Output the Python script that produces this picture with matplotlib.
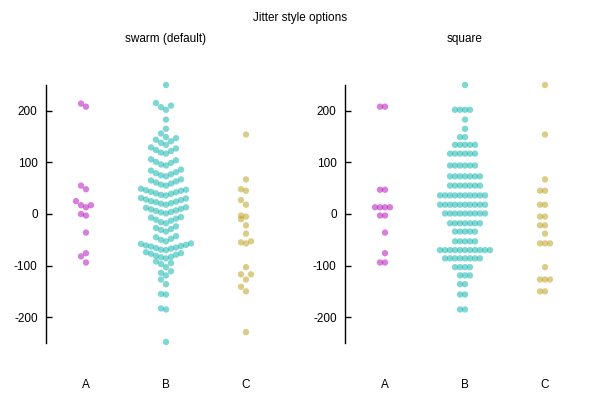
import numpy as np
import matplotlib
matplotlib.use("Agg")
from matplotlib import pyplot as plt

plt.rcParams['font.family'] = ['Liberation Sans', 'DejaVu Sans']
plt.rcParams['axes.unicode_minus'] = False

categories = ['A', 'B', 'C']

# raw values
a_vals = [-94, -82, -76, -36, -3, 0, 13, 17, 17, 25, 48, 55, 208, 214]
b_vals = [-248,
          -185, -183, -156, -155, -136, -127, -119, -114, -111,
          -103, -97, -95, -92,
          -86, -84, -83, -81, -79, -77, -76, -74,
          -70, -69, -67, -66, -65, -63, -62, -61, -60, -58, -57,
          -53, -50, -48, -45, -43,
          -34, -31, -29, -27, -24,
          -18, -16, -13, -11, -9, -7, -6,
          1, 3, 4, 6, 7, 9, 10, 12, 13,
          18, 20, 21, 23, 24, 25, 27, 28, 30, 31,
          36, 37, 39, 40, 42, 43, 45, 46, 47, 49,
          55, 57, 59, 61, 63, 65, 67,
          73, 75, 77, 79, 81, 84, 86,
          94, 96, 99, 101, 104, 106,
          117, 119, 122, 124, 127, 129,
          134, 138, 141, 144, 147,
          149, 156, 165, 183,
          202, 207, 210, 215,
          250]
c_vals = [-229, -150, -141, -127, -117, -117, -103, -57, -55, -53, -38,
          -22, -10, -5, -3, 18, 27, 45, 48, 67, 154]

# square panel: row levels and how many points sit on each row
a_rows = [-94, -76, -36, -3, 13, 47, 208]
a_counts = [2, 1, 1, 2, 4, 2, 2]
b_rows = [-185, -156, -136, -119, -103, -86, -70, -53, -34, -18, 1, 18, 36,
          55, 73, 94, 117, 134, 149, 165, 183, 202, 250]
b_counts = [2, 2, 2, 3, 4, 8, 11, 5, 5, 7, 9, 10, 10, 7, 7, 6, 6, 5, 2, 1, 1, 4, 1]
c_rows = [-150, -127, -103, -57, -38, -22, -5, 18, 45, 67, 154, 250]
c_counts = [2, 3, 1, 3, 1, 2, 2, 2, 2, 1, 1, 1]

colors = ['#b000b8', '#00b0a8', '#b89a10']
ygap = 13.5
step = 0.0625
fs = 8.5


def jitter(vals):
  # gnuplot-like: strips of points within ygap of the first one, spread 0,-1,+1,-2,+2...
  v = np.sort(np.asarray(vals, dtype=float))
  offs = []
  i = 0
  while i < len(v):
    offs.append(0)
    j = 1
    while i + j < len(v) and v[i + j] - v[i] <= ygap:
      k = (j + 1) // 2
      offs.append(-k if j % 2 else k)
      j += 1
    i += j
  return v, np.array(offs) * step


def style(ax, title):
  ax.set_xlim(0.5, 3.5)
  ax.set_ylim(-250, 250)
  for s in ['top', 'right', 'bottom']:
    ax.spines[s].set_visible(False)
  ax.spines['left'].set_linewidth(1)
  ax.set_yticks([-200, -100, 0, 100, 200])
  ax.tick_params(axis='y', direction='in', length=4, width=1, labelsize=fs, pad=6)
  ax.set_xticks([1, 2, 3])
  ax.set_xticklabels(categories)
  ax.tick_params(axis='x', length=0, labelsize=fs, pad=26)
  ax.text(0.5, 1 + 46 / 258, title, transform=ax.transAxes,
          ha='center', va='center', fontsize=fs)


fig = plt.figure(figsize=(6, 4), dpi=100)
ax1 = fig.add_axes([46 / 600, 57 / 400, 240 / 600, 258 / 400])
ax2 = fig.add_axes([345 / 600, 57 / 400, 240 / 600, 258 / 400])

for n, vals in enumerate([a_vals, b_vals, c_vals]):
  y, dx = jitter(vals)
  ax1.scatter(n + 1 + dx, y, s=21, color=colors[n], alpha=0.5,
              edgecolors='none', clip_on=False)

for n, (rows, counts) in enumerate([(a_rows, a_counts), (b_rows, b_counts), (c_rows, c_counts)]):
  y, dx = jitter(np.repeat(rows, counts))
  ax2.scatter(n + 1 + dx, y, s=21, color=colors[n], alpha=0.5,
              edgecolors='none', clip_on=False)

style(ax1, 'swarm (default)')
style(ax2, 'square')
fig.text(0.5, 1 - 18 / 400, 'Jitter style options', ha='center', va='center', fontsize=fs)

fig.savefig('out.png', dpi=100)
